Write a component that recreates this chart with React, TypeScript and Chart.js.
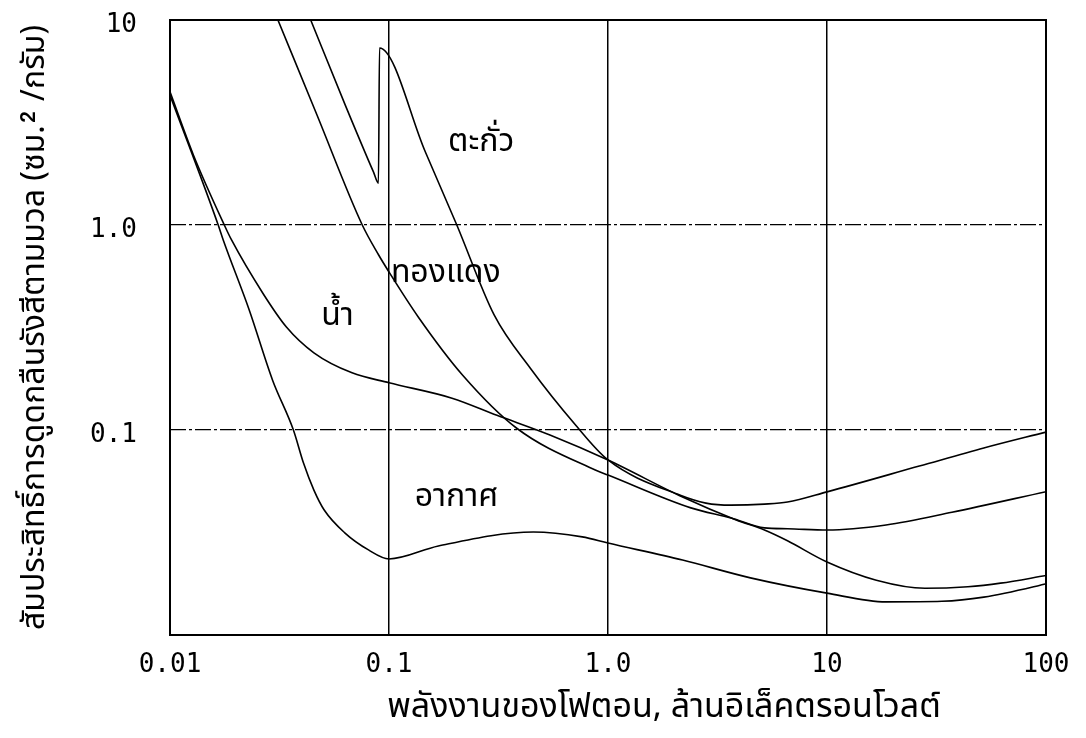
import React, { useEffect, useRef } from "react";
import { Chart, registerables } from "chart.js";

Chart.register(...registerables);

// ---- axis ticks ----
const xTickValues = [0.01, 0.1, 1, 10, 100];
const xTickLabels = ["0.01", "0.1", "1.0", "10", "100"];
const yTickValues = [0.01, 0.1, 1, 10];
const yTickLabels = ["", "0.1", "1.0", "10"];

// ---- series (photon energy MeV, mass coefficient cm^2/g) ----
const seriesNames = ["ตะกั่ว", "ทองแดง", "น้ำ", "อากาศ"];

const leadEnergy = [0.0439, 0.0628, 0.085, 0.0895, 0.0905, 0.1466, 0.204, 0.302, 0.442, 0.711, 1.0, 2.14, 2.8, 3.65, 5.18, 6.6, 10, 26.4, 52, 100];
const leadCoef = [10, 3.9, 1.81, 1.6, 7.3, 2.27, 1.0, 0.364, 0.2, 0.1057, 0.0714, 0.048, 0.044, 0.043, 0.0435, 0.0445, 0.0499, 0.0667, 0.0817, 0.0977];

const copperEnergy = [0.0311, 0.0469, 0.0755, 0.0897, 0.1, 0.136, 0.217, 0.383, 0.875, 1.0, 2.39, 3.65, 5.18, 6.6, 10, 18.6, 37.2, 100];
const copperCoef = [10, 3.44, 1.0, 0.714, 0.59, 0.356, 0.185, 0.102, 0.0638, 0.0603, 0.0417, 0.0372, 0.0333, 0.033, 0.0325, 0.0344, 0.0397, 0.05];

const waterEnergy = [0.01, 0.0128, 0.0177, 0.0191, 0.0265, 0.034, 0.0454, 0.0678, 0.1, 0.194, 0.311, 0.543, 1.0, 2.19, 3.85, 5.18, 6.6, 10, 16.8, 28, 44, 62, 100];
const waterCoef = [4.46, 2.19, 1.0, 0.845, 0.466, 0.318, 0.238, 0.19, 0.17, 0.143, 0.118, 0.0946, 0.0714, 0.0471, 0.0364, 0.0325, 0.0288, 0.0227, 0.0185, 0.0169, 0.0172, 0.0179, 0.0195];

const airEnergy = [0.01, 0.0166, 0.0175, 0.023, 0.0294, 0.0366, 0.0407, 0.0454, 0.0506, 0.0628, 0.0806, 0.1, 0.168, 0.456, 0.763, 1.0, 2.19, 4.47, 10, 18.6, 33.5, 52, 94, 100];
const airCoef = [4.3, 1.0, 0.845, 0.385, 0.175, 0.1, 0.069, 0.0509, 0.0407, 0.0315, 0.026, 0.0235, 0.0272, 0.0318, 0.0301, 0.0281, 0.0232, 0.019, 0.016, 0.0145, 0.0146, 0.0153, 0.0175, 0.0178];

// ---- in-plot curve labels (anchored in data coordinates) ----
const labelEnergy = [0.186, 0.102, 0.049, 0.131];
const labelCoef = [2.48, 0.57, 0.35, 0.0456];

const xTitle = "พลังงานของโฟตอน, ล้านอิเล็คตรอนโวลต์";
const yTitle = "สัมประสิทธิ์การดูดกลืนรังสีตามมวล (ซม.² /กรัม)";

const THAI_FONT = "'Noto Sans Thai', 'Tlwg Typo', 'Loma', 'Garuda', 'Norasi', 'DejaVu Sans', sans-serif";
const MONO_FONT = "'DejaVu Sans Mono', 'Liberation Mono', monospace";

const W = 1086;
const H = 738;

function toPoints(xs: number[], ys: number[]) {
  return xs.map((x, i) => ({ x, y: ys[i] }));
}

const overlayPlugin = {
  id: "overlay",
  afterDraw(chart: any) {
    const { ctx, chartArea: a, scales } = chart;
    ctx.save();
    // frame
    ctx.strokeStyle = "#000";
    ctx.lineWidth = 2;
    ctx.strokeRect(a.left, a.top, a.right - a.left, a.bottom - a.top);

    // curve labels
    ctx.fillStyle = "#000";
    ctx.font = `32px ${THAI_FONT}`;
    ctx.textAlign = "left";
    ctx.textBaseline = "middle";
    seriesNames.forEach((n, i) => {
      ctx.fillText(n, scales.x.getPixelForValue(labelEnergy[i]), scales.y.getPixelForValue(labelCoef[i]));
    });

    // x title
    ctx.font = `34px ${THAI_FONT}`;
    ctx.textAlign = "center";
    ctx.textBaseline = "middle";
    ctx.fillText(xTitle, 664, 710);

    // y title
    ctx.font = `32px ${THAI_FONT}`;
    ctx.save();
    ctx.translate(38, (a.top + a.bottom) / 2);
    ctx.rotate(-Math.PI / 2);
    ctx.fillText(yTitle, 0, 0);
    ctx.restore();

    ctx.restore();
  },
};

export default function App() {
  const canvasRef = useRef<HTMLCanvasElement | null>(null);

  useEffect(() => {
    const canvas = canvasRef.current;
    if (!canvas) return;
    const mk = (label: string, xs: number[], ys: number[]) => ({
      label,
      data: toPoints(xs, ys),
      borderColor: "#000",
      borderWidth: 1.6,
      pointRadius: 0,
      fill: false,
      cubicInterpolationMode: "monotone" as const,
    });
    const chart = new Chart(canvas, {
      type: "line",
      data: {
        datasets: [
          mk(seriesNames[0], leadEnergy, leadCoef),
          mk(seriesNames[1], copperEnergy, copperCoef),
          mk(seriesNames[2], waterEnergy, waterCoef),
          mk(seriesNames[3], airEnergy, airCoef),
        ],
      },
      options: {
        responsive: false,
        animation: false,
        devicePixelRatio: 1,
        layout: { padding: { left: 0, right: 40, top: 20, bottom: 0 } },
        plugins: {
          legend: { display: false },
          tooltip: { enabled: false },
        },
        scales: {
          x: {
            type: "logarithmic",
            min: 0.01,
            max: 100,
            afterBuildTicks: (s: any) => {
              s.ticks = xTickValues.map((v) => ({ value: v }));
            },
            afterFit: (s: any) => {
              s.height = 103;
            },
            ticks: {
              callback: (_v: any, i: number) => xTickLabels[i],
              font: { family: MONO_FONT, size: 26 },
              color: "#000",
              padding: 15,
              maxRotation: 0,
              autoSkip: false,
            },
            grid: { color: "#000", lineWidth: 1.5, drawTicks: false },
            border: { display: false },
          },
          y: {
            type: "logarithmic",
            min: 0.01,
            max: 10,
            afterBuildTicks: (s: any) => {
              s.ticks = yTickValues.map((v) => ({ value: v }));
            },
            afterFit: (s: any) => {
              s.width = 170;
              s.paddingTop = 0;
              s.paddingBottom = 0;
            },
            ticks: {
              callback: (_v: any, i: number) => yTickLabels[i],
              font: { family: MONO_FONT, size: 26 },
              color: "#000",
              padding: 33,
              labelOffset: 5,
              autoSkip: false,
            },
            grid: { color: "#000", lineWidth: 1.2, drawTicks: false },
            border: { display: false, dash: [16, 3, 3, 3] },
          },
        },
      },
      plugins: [overlayPlugin],
    });
    return () => chart.destroy();
  }, []);

  return (
    <div style={{ position: "absolute", left: 0, top: 0, width: W, height: H, background: "#fff" }}>
      <canvas ref={canvasRef} width={W} height={H} style={{ display: "block", width: W, height: H }} />
    </div>
  );
}
